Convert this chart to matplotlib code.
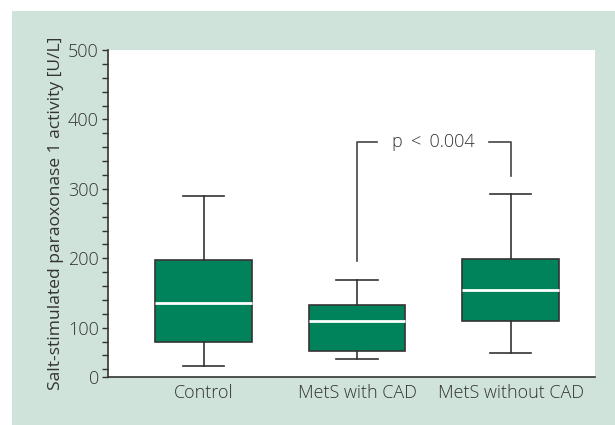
import matplotlib
matplotlib.use("Agg")
import matplotlib.pyplot as plt
from matplotlib.patches import Rectangle

categories = ["Control", "MetS with CAD", "MetS without CAD"]
whislo = [45, 55, 64]
q1 = [79, 67, 109]
med = [136, 110, 154]
q3 = [198, 132, 199]
whishi = [290, 168, 292]

y_ticks = [100, 200, 300, 400, 500]
y_bottom = 29
p_text = "p < 0.004"
bracket_top = 368
bracket_left_bottom = 196
bracket_right_bottom = 318

plt.rcParams['font.family'] = ['Open Sans', 'DejaVu Sans']
plt.rcParams['font.weight'] = 'light'
txt = '#333333'
green = '#00835a'
panel = '#cfe3da'

fig = plt.figure(figsize=(6.15, 4.25), dpi=100)
fig.patches.append(Rectangle((12/615, 0), 1, 1 - 11/425, transform=fig.transFigure,
                             facecolor=panel, edgecolor='none', zorder=-10))
ax = fig.add_axes([108/615, 48/425, 487/615, 327/425])
ax.set_facecolor('white')

stats = []
for i, c in enumerate(categories):
    stats.append(dict(label=c, whislo=whislo[i], q1=q1[i], med=med[i], q3=q3[i],
                      whishi=whishi[i], fliers=[]))
pos = [1, 2, 3]
ax.bxp(stats, positions=pos, widths=0.63, capwidths=0.27, patch_artist=True,
       showfliers=False,
       boxprops=dict(facecolor=green, edgecolor='#333333', linewidth=1.2),
       medianprops=dict(color='white', linewidth=2),
       whiskerprops=dict(color='#333333', linewidth=1.2),
       capprops=dict(color='#333333', linewidth=1.2))

ax.set_xlim(0.377, 3.55)
ax.set_ylim(y_bottom, 500)
ax.set_yticks([y_bottom] + y_ticks)
ax.set_yticklabels(['0'] + [str(t) for t in y_ticks])
ax.set_yticks([v for v in range(40, 500, 20) if v % 100 != 0], minor=True)
ax.tick_params(axis='y', which='both', direction='out', length=4.5, width=1,
               color='#333333', labelsize=13, labelcolor=txt, pad=2)
ax.tick_params(axis='x', length=0, labelsize=13, labelcolor=txt, pad=5)
for s in ['top', 'right']:
    ax.spines[s].set_visible(False)
for s in ['left', 'bottom']:
    ax.spines[s].set_color('#333333')
    ax.spines[s].set_linewidth(1.2)
ax.set_ylabel("Salt-stimulated paraoxonase 1 activity [U/L]", fontsize=12.6, color=txt, labelpad=3)

# significance bracket
lc = '#444444'
ax.plot([2, 2, 2.13], [bracket_left_bottom, bracket_top, bracket_top], color=lc, lw=1.2, clip_on=False)
ax.plot([2.86, 3.0, 3.0], [bracket_top, bracket_top, bracket_right_bottom], color=lc, lw=1.2, clip_on=False)
ax.text(2.5, bracket_top, p_text.replace(" ", "\u2009 "), ha='center', va='center', fontsize=13, color=txt)

fig.savefig("out.png", dpi=100)
